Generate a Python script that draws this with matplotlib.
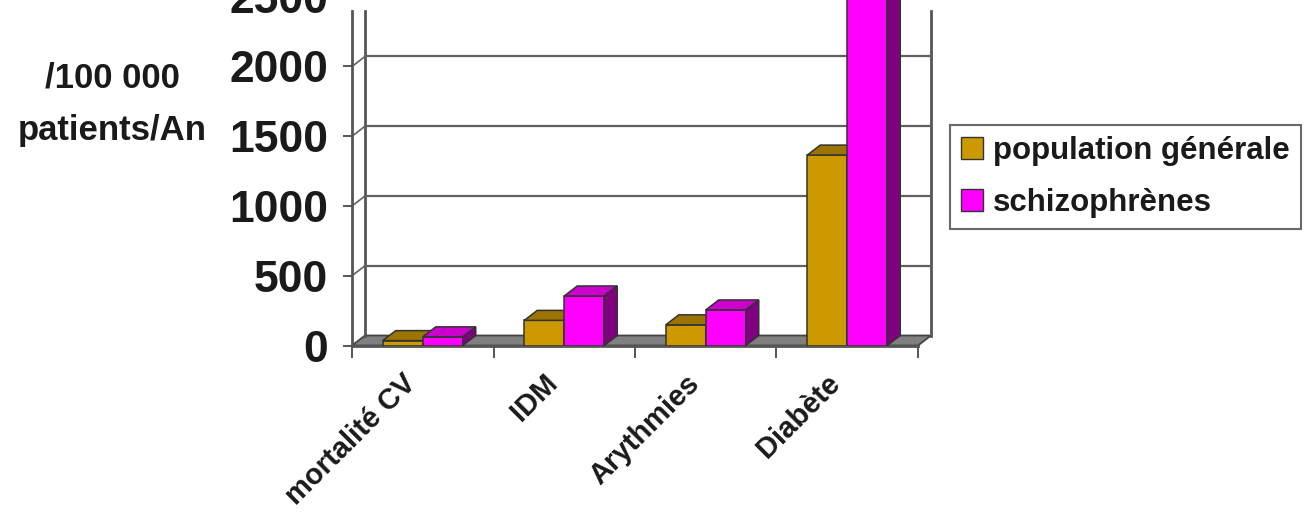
import matplotlib
matplotlib.use('Agg')
import matplotlib.pyplot as plt
from matplotlib.patches import Polygon, Patch
from matplotlib.transforms import ScaledTranslation

# data (per 100 000 patients / year)
categories = ['mortalité CV', 'IDM', 'Arythmies', 'Diabète']
pop_generale = [35, 180, 148, 1365]
schizophrenes = [62, 355, 255, 2600]
series_names = ['population générale', 'schizophrènes']
yticks = [0, 500, 1000, 1500, 2000, 2500]
gridvals = [500, 1000, 1500, 2000]

plt.rcParams['font.family'] = ['Liberation Sans', 'DejaVu Sans']
plt.rcParams['font.weight'] = 'bold'
txt = '#1a1a1a'
linec = '#555555'

# colours: front, top, side
gold = ('#CC9900', '#9C7400', '#7A5C00')
mag = ('#FF00FF', '#CC00CC', '#800080')

W, H = 1309, 515
px_cat = 141.5          # pixels per category
px_val = 0.1395         # pixels per unit
dx = 13 / px_cat        # 3D depth offset (category units)
dy = 10 / px_val        # 3D depth offset (value units)
ymax = 2700
wall_top = 2400
bar_w = 40 / px_cat

fig = plt.figure(figsize=(W / 100, H / 100), dpi=100)
ax = fig.add_axes([352 / W, (H - 345.5) / H, (4 + dx) * px_cat / W, ymax * px_val / H])
ax.set_xlim(0, 4 + dx)
ax.set_ylim(0, ymax)

# floor
floor = Polygon([(0, 0), (4, 0), (4 + dx, dy), (dx, dy)], closed=True,
                facecolor='#808080', edgecolor='#444444', lw=1.3, zorder=1, clip_on=False)
ax.add_patch(floor)

# walls and gridlines
lw_wall = 2
ax.plot([dx, dx], [dy, wall_top], color=linec, lw=lw_wall, zorder=1, clip_on=False)
ax.plot([4 + dx, 4 + dx], [dy, wall_top], color=linec, lw=lw_wall, zorder=1, clip_on=False)
for g in gridvals:
    ax.plot([dx, 4 + dx], [g + dy, g + dy], color='#606060', lw=1.6, zorder=1, clip_on=False)
    ax.plot([0, dx], [g, g + dy], color='#606060', lw=1.2, zorder=1, clip_on=False)


def bar3d(x0, v, cols, z):
    front, top, side = cols
    kw = dict(edgecolor='#333333', lw=1.1, zorder=z, closed=True)
    ax.add_patch(Polygon([(x0, 0), (x0 + bar_w, 0), (x0 + bar_w, v), (x0, v)], facecolor=front, **kw))
    ax.add_patch(Polygon([(x0, v), (x0 + bar_w, v), (x0 + bar_w + dx, v + dy), (x0 + dx, v + dy)],
                         facecolor=top, **kw))
    ax.add_patch(Polygon([(x0 + bar_w, 0), (x0 + bar_w + dx, dy), (x0 + bar_w + dx, v + dy), (x0 + bar_w, v)],
                         facecolor=side, **kw))


z = 3
for i in range(len(categories)):
    bar3d(i + 0.5 - bar_w, pop_generale[i], gold, z)
    bar3d(i + 0.5, schizophrenes[i], mag, z + 1)
    z += 2

# axes / spines
for s in ['top', 'right']:
    ax.spines[s].set_visible(False)
ax.spines['left'].set_bounds(0, wall_top)
ax.spines['bottom'].set_bounds(0, 4)
for s in ['left', 'bottom']:
    ax.spines[s].set_color(linec)
    ax.spines[s].set_linewidth(lw_wall)
    ax.spines[s].set_zorder(2)

ax.set_yticks(yticks)
ax.tick_params(axis='y', length=6.5, width=1.4, color=linec, pad=10.8, labelsize=32, labelcolor=txt)

ax.set_xticks(range(len(categories) + 1))
ax.set_xticklabels([])
ax.set_xticks([i + 0.5 for i in range(len(categories))], minor=True)
ax.set_xticklabels(categories, minor=True, rotation=45, ha='right', va='top',
                   rotation_mode='anchor', fontsize=21, color=txt)
ax.tick_params(axis='x', which='major', length=8.6, width=1.4, color=linec, direction='out')
ax.tick_params(axis='x', which='minor', length=0, pad=17)
shift = ScaledTranslation(-21 / 100, 0, fig.dpi_scale_trans)
for lab in ax.get_xticklabels(minor=True):
    lab.set_transform(lab.get_transform() + shift)

ax.set_ylabel('/100 000\npatients/An', rotation=0, fontsize=25, color=txt, fontweight='bold',
              ha='center', va='center', multialignment='center', linespacing=1.75)
ax.yaxis.set_label_coords((112 - 352) / ((4 + dx) * px_cat), (345.5 - 104) / (ymax * px_val))

handles = [Patch(facecolor=gold[0], edgecolor='#333333'), Patch(facecolor=mag[0], edgecolor='#333333')]
leg = fig.legend(handles, series_names, loc='upper left', bbox_to_anchor=(950 / W, 1 - 125 / H),
                 fontsize=22.5, frameon=True, fancybox=False, edgecolor='#444444',
                 handlelength=0.7, handleheight=0.7, handletextpad=0.32, borderpad=0.35,
                 labelspacing=0.71, borderaxespad=0)
leg.get_frame().set_linewidth(1.5)
for t in leg.get_texts():
    t.set_color(txt)

fig.savefig('out.png', dpi=100)
